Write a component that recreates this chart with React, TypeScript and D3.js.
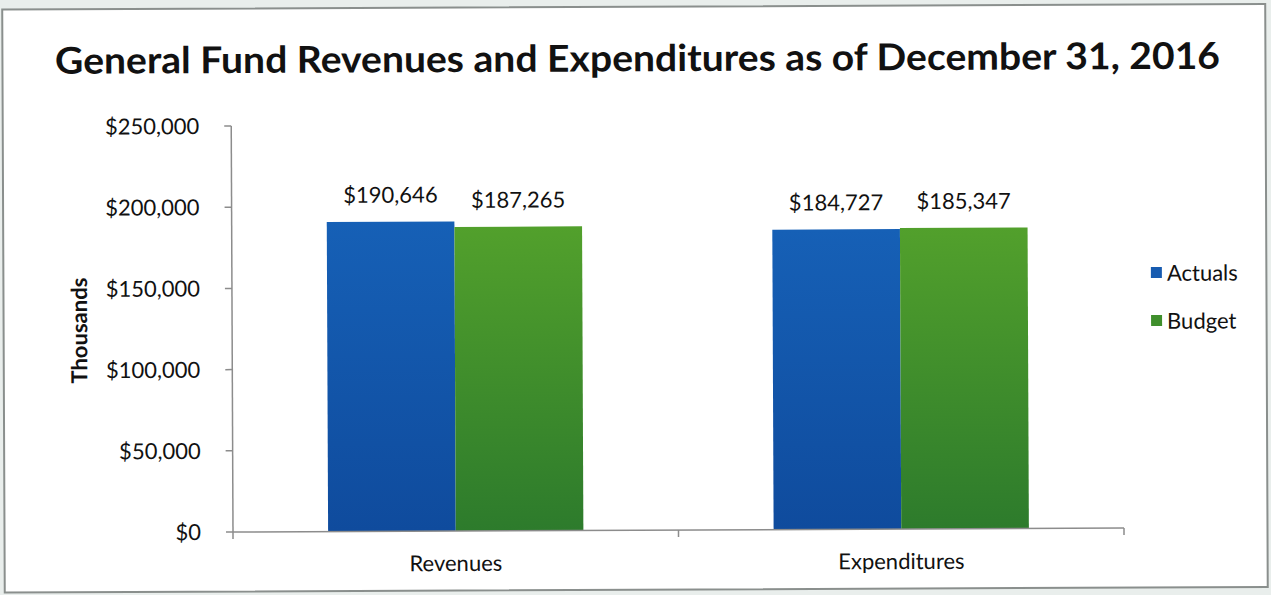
import React, { useEffect, useRef } from "react";
import * as d3 from "d3";

const categories = ["Revenues", "Expenditures"];
const seriesNames = ["Actuals", "Budget"];
const actuals = [190646, 184727];
const budget = [187265, 185347];
const yTicks = [0, 50000, 100000, 150000, 200000, 250000];
const title = "General Fund Revenues and Expenditures as of December 31, 2016";

const W = 1271;
const H = 595;

export default function App() {
  const ref = useRef<SVGSVGElement>(null);
  useEffect(() => {
    const root = d3.select(ref.current);
    root.selectAll("*").remove();
    const font = "Lato, 'Open Sans', sans-serif";

    root.append("rect").attr("width", W).attr("height", H).attr("fill", "#e9eeec");
    const svg = root.append("g").attr("transform", "rotate(-0.25, 233, 532)");
    svg.append("rect").attr("x", 4.5).attr("y", 8.5).attr("width", 1263).attr("height", 583)
      .attr("fill", "#ffffff").attr("stroke", "#8a8f8d").attr("stroke-width", 2);

    const defs = root.append("defs");
    const g1 = defs.append("linearGradient").attr("id", "gBlue").attr("x1", 0).attr("x2", 0).attr("y1", 0).attr("y2", 1);
    g1.append("stop").attr("offset", "0%").attr("stop-color", "#1660b6");
    g1.append("stop").attr("offset", "100%").attr("stop-color", "#0f4b9d");
    const g2 = defs.append("linearGradient").attr("id", "gGreen").attr("x1", 0).attr("x2", 0).attr("y1", 0).attr("y2", 1);
    g2.append("stop").attr("offset", "0%").attr("stop-color", "#52a02c");
    g2.append("stop").attr("offset", "100%").attr("stop-color", "#2d7b2c");
    const fills = ["url(#gBlue)", "url(#gGreen)"];
    const legendFills = ["#175bb0", "#3f8f2c"];

    svg.append("text").attr("x", 639.5).attr("y", 73).attr("text-anchor", "middle")
      .attr("font-family", font).attr("font-weight", 700).attr("font-size", 37)
      .attr("textLength", 1165).attr("lengthAdjust", "spacingAndGlyphs")
      .attr("fill", "#111").text(title);

    const x0 = 233, x1 = 1124, yTop = 126, yBot = 532;
    const y = d3.scaleLinear().domain([0, 250000]).range([yBot, yTop]);
    const xb = d3.scaleBand().domain(categories).range([x0, x1]).paddingInner(0.427).paddingOuter(0.2135);
    const xs = d3.scaleBand().domain(seriesNames).range([0, xb.bandwidth()]);

    // y axis
    const ya = svg.append("g");
    ya.append("line").attr("x1", x0).attr("x2", x0).attr("y1", yTop).attr("y2", yBot).attr("stroke", "#8c8c8c").attr("stroke-width", 1.5);
    yTicks.forEach((t) => {
      ya.append("line").attr("x1", x0 - 7).attr("x2", x0).attr("y1", y(t)).attr("y2", y(t)).attr("stroke", "#8c8c8c").attr("stroke-width", 1.5);
      ya.append("text").attr("x", x0 - 32).attr("y", y(t)).attr("dy", "0.36em").attr("text-anchor", "end")
        .attr("font-family", font).attr("font-size", 22).attr("fill", "#111")
        .text("$" + d3.format(",")(t));
    });
    svg.append("text").attr("transform", `translate(88,${330}) rotate(-90)`).attr("text-anchor", "middle")
      .attr("font-family", font).attr("font-weight", 700).attr("font-size", 22).attr("fill", "#111").text("Thousands");

    // bars
    const data = [actuals, budget];
    categories.forEach((c, i) => {
      seriesNames.forEach((s, j) => {
        const v = data[j][i];
        const bx = (xb(c) as number) + (xs(s) as number);
        svg.append("rect").attr("x", bx).attr("y", y(v)).attr("width", xs.bandwidth()).attr("height", yBot - y(v)).attr("fill", fills[j]);
        svg.append("text").attr("x", bx + xs.bandwidth() / 2).attr("y", y(v) - 19).attr("text-anchor", "middle")
          .attr("font-family", font).attr("font-size", 22).attr("fill", "#111").text("$" + d3.format(",")(v));
      });
      svg.append("text").attr("x", (xb(c) as number) + xb.bandwidth() / 2).attr("y", 572).attr("text-anchor", "middle")
        .attr("font-family", font).attr("font-size", 22).attr("fill", "#111").text(c);
    });

    // x axis
    svg.append("line").attr("x1", x0).attr("x2", x1).attr("y1", yBot).attr("y2", yBot).attr("stroke", "#8c8c8c").attr("stroke-width", 1.5);
    [x0, (x0 + x1) / 2, x1].forEach((t) => {
      svg.append("line").attr("x1", t).attr("x2", t).attr("y1", yBot).attr("y2", yBot + 7).attr("stroke", "#8c8c8c").attr("stroke-width", 1.5);
    });

    // legend
    seriesNames.forEach((s, j) => {
      const ly = 277 + j * 48;
      svg.append("rect").attr("x", 1152).attr("y", ly - 6).attr("width", 11).attr("height", 11).attr("fill", legendFills[j]);
      svg.append("text").attr("x", 1168).attr("y", ly).attr("dy", "0.36em").attr("font-family", font).attr("font-size", 22).attr("fill", "#111").text(s);
    });
  }, []);
  return <svg ref={ref} width={W} height={H} style={{ position: "absolute", left: 0, top: 0 }} />;
}
